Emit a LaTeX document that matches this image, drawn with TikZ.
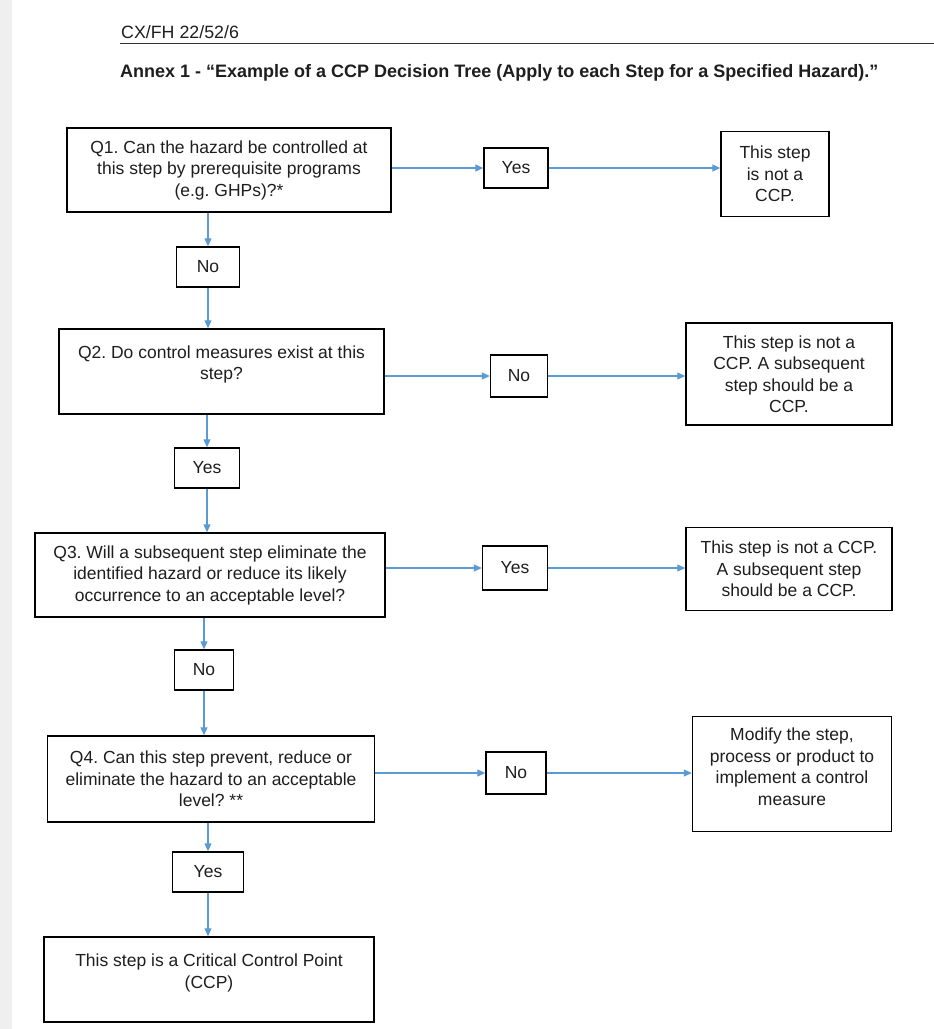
\documentclass[tikz,border=0pt]{standalone}
\usepackage{fontspec}
\setmainfont{Liberation Sans}
\usetikzlibrary{arrows.meta}
\definecolor{arrowblue}{HTML}{5B9BD5}
\definecolor{txt}{HTML}{1E1E1E}
\definecolor{strip}{HTML}{EFEFEF}
\begin{document}
\frenchspacing
\begin{tikzpicture}[x=1pt,y=-1pt,
  box/.style={draw=black, line width=1.4pt, align=center, text=txt,
    font=\fontsize{17.5}{21.5}\selectfont, inner sep=0pt},
  flow/.style={draw=arrowblue, line width=1.1pt, -{Triangle[length=8pt,width=7pt]}},
]
\useasboundingbox (0,0) rectangle (934,1029);
\fill[white] (0,0) rectangle (934,1029);
\fill[strip] (0,0) rectangle (12,1029);

% header
\node[anchor=base west, inner sep=0pt, text=txt, font=\fontsize{17.8}{20}\selectfont] (hdr) at (121,38) {CX/FH 22/52/6};
\coordinate (ruleL) at (120,43);
\coordinate (ruleR) at (934,43);
\draw[line width=1pt, black!80] (ruleL) -- (ruleR);
\node[anchor=base west, inner sep=0pt, text=txt, font=\fontsize{18}{21}\selectfont\bfseries] (title) at (120,77)
  {Annex 1 - “Example of a CCP Decision Tree (Apply to each Step for a Specified Hazard).”};

% question boxes
\node[box, minimum width=324pt, minimum height=84pt] (Q1) at (229,170)
  {Q1. Can the hazard be controlled at\\this step by prerequisite programs\\(e.g. GHPs)?*};
\node[box, minimum width=325pt, minimum height=85pt] (Q2) at (221.5,371.5)
  {Q2. Do control measures exist at this\\step?\\[-4pt]~};
\node[box, minimum width=350pt, minimum height=84pt] (Q3) at (210,575)
  {Q3. Will a subsequent step eliminate the\\identified hazard or reduce its likely\\occurrence to an acceptable level?};
\node[box, minimum width=327pt, minimum height=86pt] (Q4) at (211,779)
  {Q4. Can this step prevent, reduce or\\eliminate the hazard to an acceptable\\level? **};
\node[box, minimum width=330pt, minimum height=85pt] (CCP) at (209,979.5)
  {This step is a Critical Control Point\\(CCP)\\[-5pt]~};

% answer boxes
\node[box, minimum width=64pt, minimum height=40pt] (Y1) at (516,168) {Yes};
\node[box, minimum width=63pt, minimum height=40pt] (N1) at (208,267) {No};
\node[box, minimum width=57pt, minimum height=42pt] (N2) at (519,376) {No};
\node[box, minimum width=65pt, minimum height=40pt] (Y2) at (207,468) {Yes};
\node[box, minimum width=65pt, minimum height=44pt] (Y3) at (515,568) {Yes};
\node[box, minimum width=59pt, minimum height=40pt] (N3) at (204,670) {No};
\node[box, minimum width=60pt, minimum height=42pt] (N4) at (516,773) {No};
\node[box, minimum width=71pt, minimum height=40pt] (Y4) at (208,872) {Yes};

% outcome boxes
\node[box, minimum width=108pt, minimum height=85pt] (R1) at (775,174)
  {This step\\is not a\\CCP.};
\node[box, minimum width=206pt, minimum height=102pt] (R2) at (789,374)
  {This step is not a\\CCP. A subsequent\\step should be a\\CCP.};
\node[box, minimum width=206pt, minimum height=83pt] (R3) at (789,569)
  {This step is not a CCP.\\A subsequent step\\should be a CCP.};
\node[box, minimum width=199pt, minimum height=115pt] (R4) at (792,774)
  {Modify the step,\\process or product to\\implement a control\\measure\\[-7pt]~};

% horizontal connectors
\draw[flow] (Q1.east |- Y1.west) -- (Y1.west);
\draw[flow] (Y1.east) -- (R1.west |- Y1.east);
\draw[flow] (Q2.east |- N2.west) -- (N2.west);
\draw[flow] (N2.east) -- (R2.west |- N2.east);
\draw[flow] (Q3.east |- Y3.west) -- (Y3.west);
\draw[flow] (Y3.east) -- (R3.west |- Y3.east);
\draw[flow] (Q4.east |- N4.west) -- (N4.west);
\draw[flow] (N4.east) -- (R4.west |- N4.east);

% vertical connectors
\draw[flow] (Q1.south -| N1.north) -- (N1.north);
\draw[flow] (N1.south) -- (Q2.north -| N1.south);
\draw[flow] (Q2.south -| Y2.north) -- (Y2.north);
\draw[flow] (Y2.south) -- (Q3.north -| Y2.south);
\draw[flow] (Q3.south -| N3.north) -- (N3.north);
\draw[flow] (N3.south) -- (Q4.north -| N3.south);
\draw[flow] (Q4.south -| Y4.north) -- (Y4.north);
\draw[flow] (Y4.south) -- (CCP.north -| Y4.south);
\end{tikzpicture}
\end{document}
